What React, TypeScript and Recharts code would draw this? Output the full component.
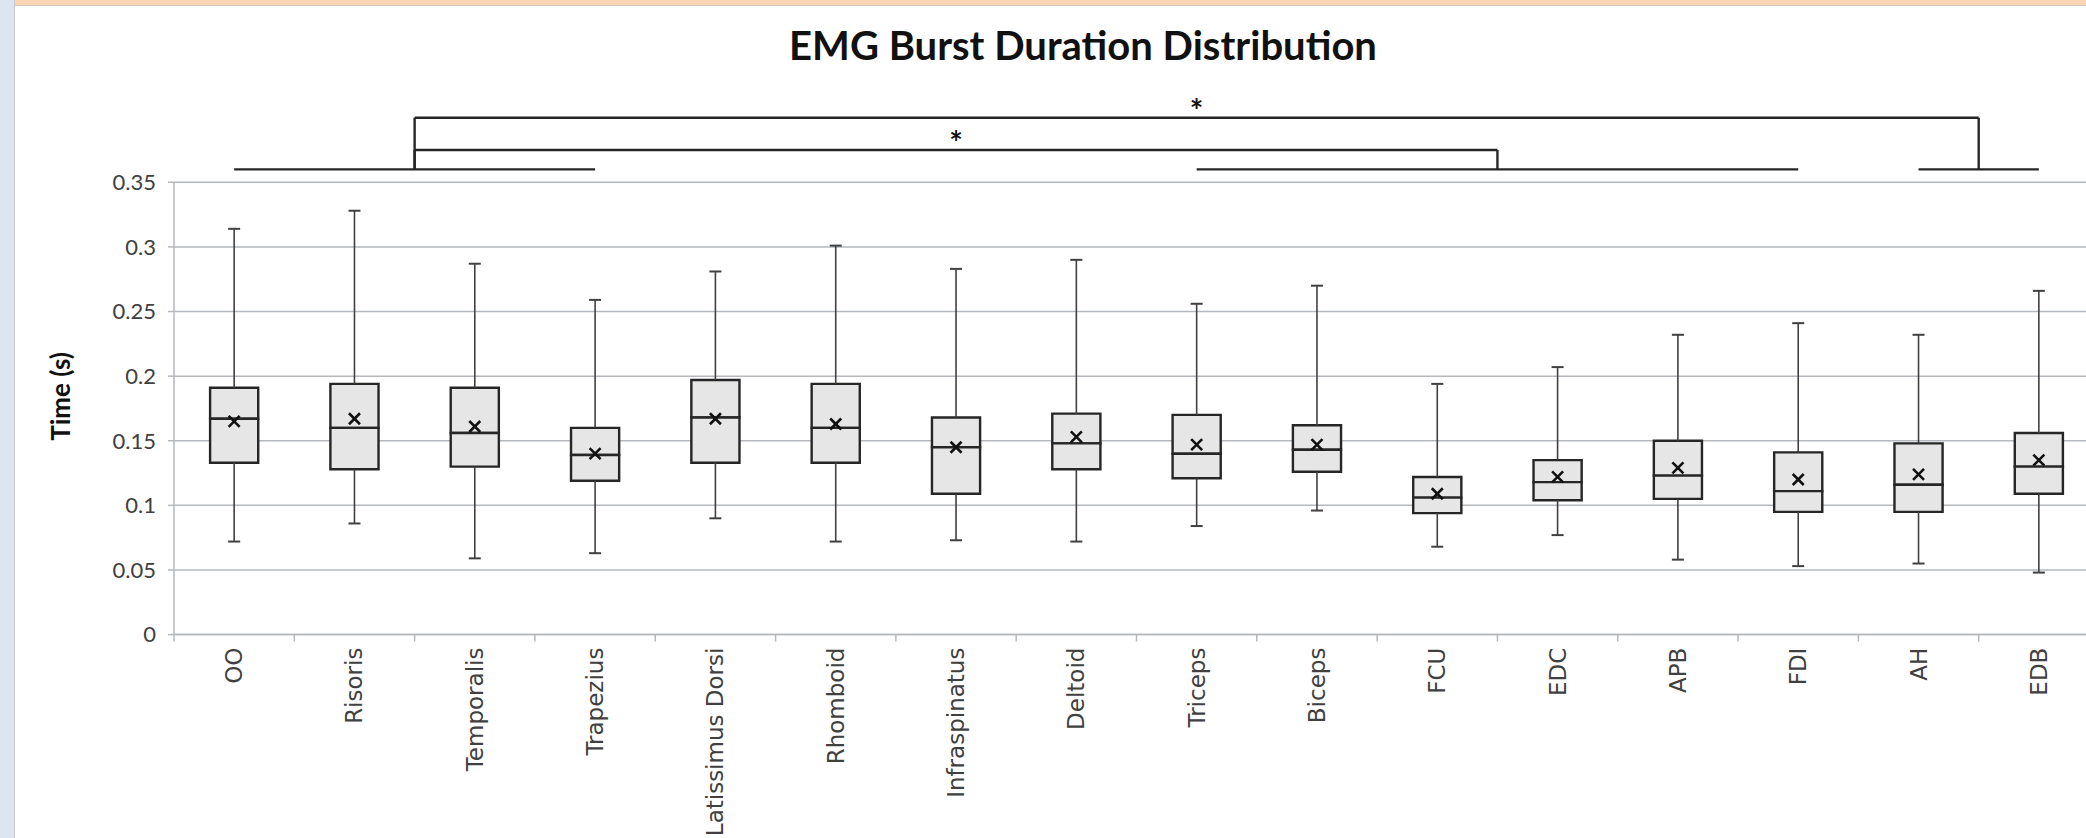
import React from 'react'
import {
  ComposedChart,
  CartesianGrid,
  XAxis,
  YAxis,
  Scatter,
  ReferenceArea,
  ReferenceLine,
  ReferenceDot,
} from 'recharts'

// Muscle categories, left to right
const CATEGORIES = [
  'OO', 'Risoris', 'Temporalis', 'Trapezius', 'Latissimus Dorsi', 'Rhomboid',
  'Infraspinatus', 'Deltoid', 'Triceps', 'Biceps', 'FCU', 'EDC', 'APB', 'FDI', 'AH', 'EDB',
]

// Box plot statistics (seconds)
const MAX = [0.314, 0.328, 0.287, 0.259, 0.281, 0.301, 0.283, 0.29, 0.256, 0.27, 0.194, 0.207, 0.232, 0.241, 0.232, 0.266]
const Q3 = [0.191, 0.194, 0.191, 0.16, 0.197, 0.194, 0.168, 0.171, 0.17, 0.162, 0.122, 0.135, 0.15, 0.141, 0.148, 0.156]
const MEDIAN = [0.167, 0.16, 0.156, 0.139, 0.168, 0.16, 0.145, 0.148, 0.14, 0.143, 0.106, 0.118, 0.123, 0.111, 0.116, 0.13]
const MEAN = [0.165, 0.167, 0.161, 0.14, 0.167, 0.163, 0.145, 0.153, 0.147, 0.147, 0.109, 0.122, 0.129, 0.12, 0.124, 0.135]
const Q1 = [0.133, 0.128, 0.13, 0.119, 0.133, 0.133, 0.109, 0.128, 0.121, 0.126, 0.094, 0.104, 0.105, 0.095, 0.095, 0.109]
const MIN = [0.072, 0.086, 0.059, 0.063, 0.09, 0.072, 0.073, 0.072, 0.084, 0.096, 0.068, 0.077, 0.058, 0.053, 0.055, 0.048]

const Y_TICKS = [0, 0.05, 0.1, 0.15, 0.2, 0.25, 0.3, 0.35]

// Significance groups (first / last category index) and brackets between them
const GROUP_START = [0, 8, 14]
const GROUP_END = [3, 13, 15]
const GROUP_LEVEL = 0.36
const BRACKET_FROM = [1.5, 1.5]
const BRACKET_TO = [10.5, 14.5]
const BRACKET_LEVEL = [0.375, 0.4]
const STAR_X = [6, 8]
const STAR_LEVEL = [0.385, 0.41]

const GRID = '#b5b8bc'
const INK = '#262626'
const HALF_BOX = 0.2
const HALF_CAP = 0.05

const xTicks = Array.from({ length: CATEGORIES.length * 2 + 1 }, (_, k) => k / 2 - 0.5)
const meanData = MEAN.map((m, i) => ({ x: i, y: m }))

function CategoryTick(props: any) {
  const { x, y, payload } = props
  const v = payload.value
  if (!Number.isInteger(v)) {
    return <line x1={x} x2={x} y1={y} y2={y + 7} stroke={GRID} strokeWidth={1.5} />
  }
  const ly = y + 13
  return (
    <text
      x={x}
      y={ly}
      transform={`rotate(-90, ${x}, ${ly})`}
      textAnchor="end"
      dominantBaseline="central"
      fontFamily="DejaVu Sans"
      fontSize={23}
      fill="#404040"
    >
      {CATEGORIES[v]}
    </text>
  )
}

function MeanMark(props: any) {
  const { cx, cy } = props
  const s = 5.5
  return (
    <g stroke="#111" strokeWidth={2.6}>
      <line x1={cx - s} y1={cy - s} x2={cx + s} y2={cy + s} />
      <line x1={cx - s} y1={cy + s} x2={cx + s} y2={cy - s} />
    </g>
  )
}

function YTitle(props: any) {
  const vb = props.viewBox
  const x = vb.x + 26
  const y = vb.y + vb.height / 2 - 12
  return (
    <text
      x={x}
      y={y}
      transform={`rotate(-90, ${x}, ${y})`}
      textAnchor="middle"
      dominantBaseline="central"
      fontFamily="Lato"
      fontWeight="bold"
      fontSize={26}
      fill="#111"
    >
      Time (s)
    </text>
  )
}

export default function App() {
  return (
    <div
      style={{
        position: 'absolute',
        left: 0,
        top: 0,
        width: 2086,
        height: 838,
        overflow: 'hidden',
        background: '#fff',
      }}
    >
      <div style={{ position: 'absolute', left: 0, top: 0, width: 14, height: 838, background: '#dce6f2', borderRight: '1px solid #c4c8cc' }} />
      <div style={{ position: 'absolute', left: 15, top: 0, width: 2071, height: 5, background: '#fcd5b4', borderBottom: '1px solid #d0c8c0' }} />
      <div
        style={{
          position: 'absolute',
          left: 0,
          top: 25,
          width: 2166,
          textAlign: 'center',
          fontFamily: 'Lato',
          fontWeight: 'bold',
          fontSize: 40,
          lineHeight: '40px',
          color: '#111',
        }}
      >
        EMG Burst Duration Distribution
      </div>
      <div style={{ position: 'absolute', left: 0, top: 0 }}>
        <ComposedChart
          width={2110}
          height={838}
          margin={{ top: 182.3, right: 11, bottom: 3.4, left: 34 }}
        >
          <CartesianGrid horizontal vertical={false} stroke={GRID} strokeWidth={1.5} />
          <XAxis
            type="number"
            dataKey="x"
            domain={[-0.5, 15.5]}
            allowDataOverflow
            ticks={xTicks}
            interval={0}
            tick={<CategoryTick />}
            tickLine={false}
            tickSize={0}
            tickMargin={0}
            height={200}
            axisLine={{ stroke: GRID, strokeWidth: 1.5 }}
          />
          <YAxis
            type="number"
            dataKey="y"
            domain={[0, 0.35]}
            allowDataOverflow
            ticks={Y_TICKS}
            interval={0}
            width={140}
            tickSize={6}
            tickMargin={12}
            tickFormatter={(v: number) => String(v)}
            tick={{ fontFamily: 'Lato', fontSize: 22, fill: '#404040' }}
            tickLine={{ stroke: GRID, strokeWidth: 1.5 }}
            axisLine={{ stroke: GRID, strokeWidth: 1.5 }}
            label={<YTitle />}
          />

          {CATEGORIES.map((c, i) => (
            <ReferenceLine
              key={`wu-${c}`}
              segment={[{ x: i, y: Q3[i] }, { x: i, y: MAX[i] }]}
              stroke="#404040"
              strokeWidth={1.6}
            />
          ))}
          {CATEGORIES.map((c, i) => (
            <ReferenceLine
              key={`wl-${c}`}
              segment={[{ x: i, y: MIN[i] }, { x: i, y: Q1[i] }]}
              stroke="#404040"
              strokeWidth={1.6}
            />
          ))}
          {CATEGORIES.map((c, i) => (
            <ReferenceLine
              key={`cu-${c}`}
              segment={[{ x: i - HALF_CAP, y: MAX[i] }, { x: i + HALF_CAP, y: MAX[i] }]}
              stroke="#404040"
              strokeWidth={2}
            />
          ))}
          {CATEGORIES.map((c, i) => (
            <ReferenceLine
              key={`cl-${c}`}
              segment={[{ x: i - HALF_CAP, y: MIN[i] }, { x: i + HALF_CAP, y: MIN[i] }]}
              stroke="#404040"
              strokeWidth={2}
            />
          ))}
          {CATEGORIES.map((c, i) => (
            <ReferenceArea
              key={`bu-${c}`}
              x1={i - HALF_BOX}
              x2={i + HALF_BOX}
              y1={MEDIAN[i]}
              y2={Q3[i]}
              fill="#e7e6e6"
              fillOpacity={1}
              stroke={INK}
              strokeWidth={2.4}
            />
          ))}
          {CATEGORIES.map((c, i) => (
            <ReferenceArea
              key={`bl-${c}`}
              x1={i - HALF_BOX}
              x2={i + HALF_BOX}
              y1={Q1[i]}
              y2={MEDIAN[i]}
              fill="#e7e6e6"
              fillOpacity={1}
              stroke={INK}
              strokeWidth={2.4}
            />
          ))}

          {GROUP_START.map((s, g) => (
            <ReferenceLine
              key={`g-${g}`}
              segment={[{ x: s, y: GROUP_LEVEL }, { x: GROUP_END[g], y: GROUP_LEVEL }]}
              stroke={INK}
              strokeWidth={2.4}
              ifOverflow="visible"
            />
          ))}
          {BRACKET_FROM.map((f, b) => (
            <ReferenceLine
              key={`bt-${b}`}
              segment={[{ x: f, y: BRACKET_LEVEL[b] }, { x: BRACKET_TO[b], y: BRACKET_LEVEL[b] }]}
              stroke={INK}
              strokeWidth={2.4}
              ifOverflow="visible"
            />
          ))}
          {BRACKET_FROM.map((f, b) => (
            <ReferenceLine
              key={`bf-${b}`}
              segment={[{ x: f, y: GROUP_LEVEL }, { x: f, y: BRACKET_LEVEL[b] }]}
              stroke={INK}
              strokeWidth={2.4}
              ifOverflow="visible"
            />
          ))}
          {BRACKET_TO.map((t, b) => (
            <ReferenceLine
              key={`bto-${b}`}
              segment={[{ x: t, y: GROUP_LEVEL }, { x: t, y: BRACKET_LEVEL[b] }]}
              stroke={INK}
              strokeWidth={2.4}
              ifOverflow="visible"
            />
          ))}
          {STAR_X.map((sx, b) => (
            <ReferenceDot
              key={`s-${b}`}
              x={sx}
              y={STAR_LEVEL[b]}
              ifOverflow="visible"
              shape={(p: any) => (
                <text
                  x={p.cx}
                  y={p.cy + 18}
                  textAnchor="middle"
                  fontFamily="Lato"
                  fontWeight="bold"
                  fontSize={32}
                  fill="#111"
                >
                  *
                </text>
              )}
            />
          ))}

          <Scatter data={meanData} shape={<MeanMark />} isAnimationActive={false} />
        </ComposedChart>
      </div>
    </div>
  )
}
